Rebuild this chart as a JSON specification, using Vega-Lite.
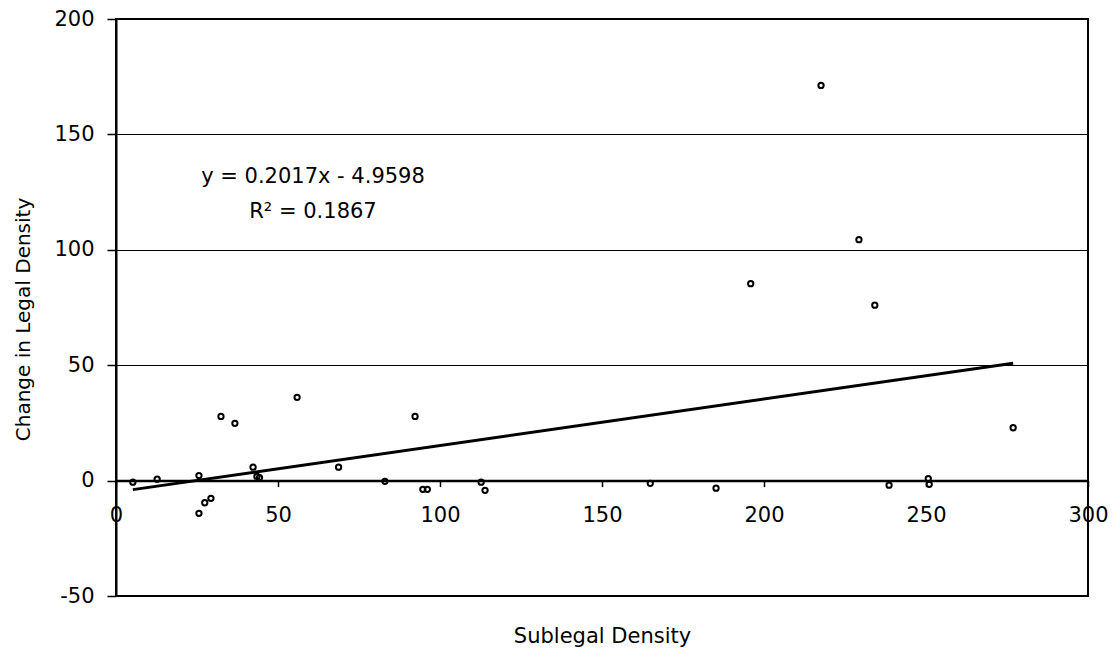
{
  "$schema": "https://vega.github.io/schema/vega-lite/v6.json",
  "autosize": {"type": "none"},
  "width": 972,
  "height": 577,
  "padding": {"left": 116, "top": 19, "right": 27, "bottom": 56},
  "background": "white",
  "config": {
    "view": {"stroke": "black", "strokeWidth": 2},
    "font": "DejaVu Sans"
  },
  "encoding": {
    "x": {
      "field": "x", "type": "quantitative",
      "scale": {"domain": [0, 300], "nice": false, "zero": false},
      "axis": {
        "values": [0, 50, 100, 150, 200, 250, 300],
        "offset": -115.4,
        "grid": false,
        "domainColor": "black", "domainWidth": 2.5,
        "tickColor": "black", "tickSize": 6, "tickWidth": 1.5,
        "labelFont": "DejaVu Sans", "labelFontSize": 21, "labelColor": "black",
        "labelPadding": 18, "labelFlush": false, "labelOverlap": false,
        "labelExpr": "'' + datum.value",
        "title": "Sublegal Density",
        "titleFont": "DejaVu Sans", "titleFontSize": 21, "titleFontWeight": "normal", "titleColor": "black",
        "titleX": 486, "titleY": 162, "titleBaseline": "alphabetic", "titleAlign": "center"
      }
    },
    "y": {
      "field": "y", "type": "quantitative",
      "scale": {"domain": [-50, 200], "nice": false, "zero": false},
      "axis": {
        "values": [-50, 0, 50, 100, 150, 200],
        "grid": true, "gridColor": "black", "gridWidth": 1, "gridOpacity": 1,
        "domainColor": "black", "domainWidth": 2,
        "tickColor": "black", "tickSize": 9, "tickWidth": 1.5,
        "labelFont": "DejaVu Sans", "labelFontSize": 21, "labelColor": "black",
        "labelPadding": 13, "labelOverlap": false,
        "labelExpr": "'' + datum.value",
        "title": "Change in Legal Density",
        "titleFont": "DejaVu Sans", "titleFontSize": 20, "titleFontWeight": "normal", "titleColor": "black",
        "titleAngle": -90, "titleX": -93, "titleY": 300, "titleBaseline": "middle", "titleAlign": "center"
      }
    }
  },
  "layer": [
    {
      "data": {"values": [
        {"x": 5.2, "y": -0.7},
        {"x": 12.7, "y": 0.6},
        {"x": 25.6, "y": 2.2},
        {"x": 25.6, "y": -14.2},
        {"x": 27.4, "y": -9.6},
        {"x": 29.3, "y": -7.7},
        {"x": 32.4, "y": 27.8},
        {"x": 36.7, "y": 24.8},
        {"x": 42.3, "y": 5.8},
        {"x": 43.5, "y": 1.8},
        {"x": 44.3, "y": 1.3},
        {"x": 55.9, "y": 36.1},
        {"x": 68.7, "y": 5.8},
        {"x": 83.0, "y": -0.3},
        {"x": 92.3, "y": 27.8},
        {"x": 94.7, "y": -3.8},
        {"x": 96.1, "y": -3.8},
        {"x": 112.7, "y": -0.7},
        {"x": 113.9, "y": -4.2},
        {"x": 164.9, "y": -1.2},
        {"x": 185.2, "y": -3.3},
        {"x": 195.9, "y": 85.3},
        {"x": 217.6, "y": 171.2},
        {"x": 229.3, "y": 104.4},
        {"x": 234.2, "y": 76.0},
        {"x": 238.6, "y": -2.0},
        {"x": 250.7, "y": 0.9},
        {"x": 251.0, "y": -1.6},
        {"x": 276.9, "y": 22.9}
      ]},
      "mark": {"type": "point", "shape": "circle", "filled": false, "stroke": "black", "strokeWidth": 2, "size": 28, "opacity": 1}
    },
    {
      "data": {"values": [
        {"x": 5.2, "y": -3.91},
        {"x": 276.9, "y": 50.89}
      ]},
      "mark": {"type": "line", "color": "black", "strokeWidth": 3}
    },
    {
      "data": {"values": [
        {"x": 60.8, "y": 129.0, "label": "y = 0.2017x - 4.9598"},
        {"x": 60.8, "y": 113.9, "label": "R² = 0.1867"}
      ]},
      "mark": {"type": "text", "font": "DejaVu Sans", "fontSize": 21, "color": "black", "align": "center", "baseline": "alphabetic"},
      "encoding": {"text": {"field": "label", "type": "nominal"}}
    }
  ]
}
